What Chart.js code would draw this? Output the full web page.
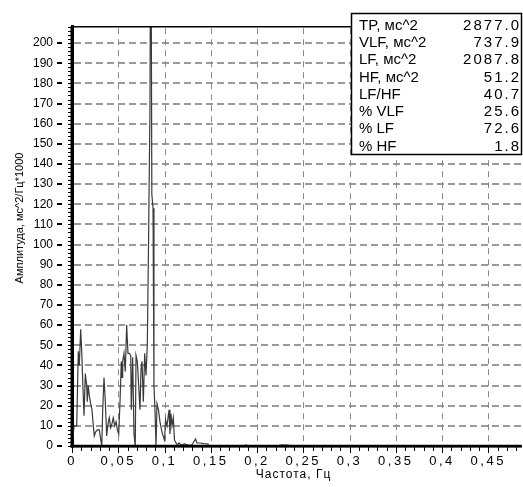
<!DOCTYPE html>
<html><head><meta charset="utf-8">
<script src="https://cdn.jsdelivr.net/npm/chart.js@4"></script>
<style>html,body{margin:0;padding:0;background:#fff;} canvas{display:block;}</style>
</head><body>
<canvas id="c" width="523" height="487"></canvas>
<script>
const freqHz = [0, 0.0008, 0.0022, 0.0051, 0.0068, 0.0079, 0.0094, 0.0105, 0.0116, 0.0130,
  0.0144, 0.0159, 0.0165, 0.0176, 0.0187, 0.0202, 0.0216, 0.0230, 0.0241, 0.0256,
  0.0274, 0.0295, 0.0311, 0.0322, 0.0332, 0.0346, 0.0360, 0.0375, 0.0389, 0.0403,
  0.0418, 0.0432, 0.0446, 0.0462, 0.0476, 0.0490, 0.0505, 0.0519, 0.0533, 0.0541,
  0.0548, 0.0562, 0.0576, 0.0591, 0.0605, 0.0619, 0.0635, 0.0641, 0.0656, 0.0670,
  0.0684, 0.0692, 0.0706, 0.0721, 0.0735, 0.0746, 0.0757, 0.0771, 0.0786, 0.0800,
  0.0814, 0.0825, 0.0843, 0.0852, 0.0863, 0.0876, 0.0886, 0.0897, 0.0908, 0.0919,
  0.0935, 0.0951, 0.0968, 0.0984, 0.1000, 0.1011, 0.1027, 0.1038, 0.1049, 0.1059,
  0.1070, 0.1081, 0.1095, 0.1108, 0.1124, 0.1141, 0.1157, 0.1178, 0.1218, 0.1254,
  0.1297, 0.1335, 0.1351, 0.1384, 0.1427, 0.1470, 0.1481, 0.1870, 0.1881, 0.1895,
  0.2235, 0.2249, 0.2335, 0.2355, 0.4854];
const amplitude = [0, 0, 10, 10, 47, 40, 58, 47, 32, 15,
  36, 30, 22, 30, 25, 21, 18, 10, 5, 7,
  8, 8, 3, 0, 18, 34, 22, 5, 11, 14,
  9, 11, 14, 10, 12, 8, 6, 22, 42, 34,
  42, 46, 37, 60, 46, 46, 45, 18, 44, 6,
  0, 45, 42, 30, 18, 38, 42, 22, 46, 35,
  50, 91, 168, 300, 125, 118, 30, 18, 0, 21,
  18, 12, 8, 5, 3, 13, 10, 14, 18, 6,
  16, 10, 14, 3, 1.5, 0.5, 1.5, 0.5, 1, 0.5,
  0.5, 3.5, 1.5, 1.5, 1.2, 1, 0, 0, 0.6, 0,
  0, 0.5, 0.5, 0, 0];
const statLabels = ['TP, мс^2', 'VLF, мс^2', 'LF, мс^2', 'HF, мс^2', 'LF/HF', '% VLF', '% LF', '% HF'];
const statValues = ['2877.0', '737.9', '2087.8', '51.2', '40.7', '25.6', '72.6', '1.8'];
const xTitle = 'Частота, Гц';
const yTitle = 'Амплитуда, мс^2/Гц*1000';

const FONT = '"Liberation Sans", Arial, sans-serif';

const decor = {
  id: 'decor',
  beforeDatasetsDraw(chart) {
    const ctx = chart.ctx, a = chart.chartArea, xs = chart.scales.x, ys = chart.scales.y;
    ctx.save();
    // horizontal dashed grid (2px tall so it survives)
    ctx.fillStyle = '#9a9a9a';
    ys.ticks.forEach(t => {
      if (t.value === 0) return;
      const y = Math.round(ys.getPixelForValue(t.value)) - 1;
      for (let px = a.left + 2; px < a.right; px += 11) {
        ctx.fillRect(px, y, Math.min(7, a.right - px), 2);
      }
    });
    // vertical dashed grid
    ctx.fillStyle = '#8a8a8a';
    xs.ticks.forEach(t => {
      if (t.value === 0) return;
      const x = Math.round(xs.getPixelForValue(t.value));
      for (let y = a.top + 2; y < a.bottom; y += 11) {
        ctx.fillRect(x, y, 1, Math.min(6, a.bottom - y));
      }
    });
    ctx.restore();
  },
  afterDatasetsDraw(chart) {
    const ctx = chart.ctx, a = chart.chartArea, xs = chart.scales.x, ys = chart.scales.y;
    ctx.save();
    ctx.strokeStyle = '#000';
    ctx.lineWidth = 3;
    ctx.beginPath(); ctx.moveTo(a.left, a.top); ctx.lineTo(a.left, a.bottom + 1.5); ctx.stroke();
    ctx.lineWidth = 2.5;
    ctx.beginPath(); ctx.moveTo(a.left - 1.5, a.bottom); ctx.lineTo(a.right, a.bottom); ctx.stroke();
    ctx.lineWidth = 1.5;
    ctx.beginPath(); ctx.moveTo(a.left, a.top + 0.5); ctx.lineTo(a.right, a.top + 0.5); ctx.stroke();
    ctx.fillStyle = '#000';
    for (let v = 0; v <= ys.max; v += 2) {
      const y = Math.round(ys.getPixelForValue(v));
      ctx.fillRect(a.left - 4, y, 3, 1);
    }
    ys.ticks.forEach(t => {
      const y = Math.round(ys.getPixelForValue(t.value)) - 1;
      ctx.fillRect(a.left - 15, y, 5, 2);
    });
    for (let i = 0; i * 0.01 <= xs.max; i++) {
      const x = Math.round(xs.getPixelForValue(i * 0.01));
      const len = (i % 5 === 0) ? 6 : 4;
      ctx.fillRect(x, a.bottom + 1, 1, len);
    }
    ctx.restore();
    ctx.letterSpacing = '2.5px';
  },
  afterDraw(chart) {
    const ctx = chart.ctx;
    ctx.letterSpacing = '0px';
    ctx.save();
    ctx.fillStyle = '#000';
    ctx.save();
    ctx.translate(20, 218);
    ctx.rotate(-Math.PI / 2);
    ctx.font = '11px ' + FONT;
    ctx.textAlign = 'center'; ctx.textBaseline = 'middle';
    ctx.fillText(yTitle, 0, 0);
    ctx.restore();
    ctx.save();
    ctx.font = '12px ' + FONT;
    ctx.letterSpacing = '1px';
    ctx.textAlign = 'center'; ctx.textBaseline = 'middle';
    ctx.fillText(xTitle, 293.5, 475);
    ctx.restore();
    ctx.fillStyle = '#fff';
    ctx.fillRect(351, 13, 171, 142);
    ctx.strokeStyle = '#000';
    ctx.lineWidth = 1.5;
    ctx.strokeRect(351.5, 13.5, 170, 141);
    ctx.fillStyle = '#000';
    ctx.font = '15px ' + FONT;
    ctx.textBaseline = 'middle';
    statLabels.forEach((lab, i) => {
      const y = 25.5 + i * 17.3;
      ctx.letterSpacing = '0px';
      ctx.textAlign = 'left';
      ctx.fillText(lab, 359, y);
      ctx.letterSpacing = '2px';
      ctx.textAlign = 'right';
      ctx.fillText(statValues[i], 521, y);
    });
    ctx.letterSpacing = '0px';
    ctx.restore();
  }
};

new Chart(document.getElementById('c'), {
  type: 'line',
  data: {
    datasets: [{
      data: freqHz.map((f, i) => ({ x: f, y: amplitude[i] })),
      borderColor: '#3a3a3a', borderWidth: 1.2, pointRadius: 0, fill: false, tension: 0
    }]
  },
  options: {
    responsive: false, animation: false, devicePixelRatio: 1,
    layout: { padding: { top: 8, right: 2, left: 0, bottom: 0 } },
    plugins: { legend: { display: false }, tooltip: { enabled: false }, title: { display: false } },
    scales: {
      x: {
        type: 'linear', min: 0, max: 0.4854,
        afterFit(s) { s.height = 41; },
        ticks: {
          stepSize: 0.05, includeBounds: false, autoSkip: false, maxRotation: 0, minRotation: 0,
          padding: 8, color: '#000', font: { family: FONT, size: 13 }, z: 1,
          callback: (v) => String(Math.round(v * 100) / 100).replace('.', ',')
        },
        grid: { display: false, drawTicks: false },
        border: { display: true, color: '#000', width: 2.5 }
      },
      y: {
        type: 'linear', min: 0, max: 208.4,
        afterFit(s) { s.width = 72; },
        ticks: { stepSize: 10, includeBounds: false, padding: 19, color: '#000', font: { family: FONT, size: 12 } },
        grid: { display: false, drawTicks: false },
        border: { display: true, color: '#000', width: 3 }
      }
    }
  },
  plugins: [decor]
});
</script>
</body></html>
